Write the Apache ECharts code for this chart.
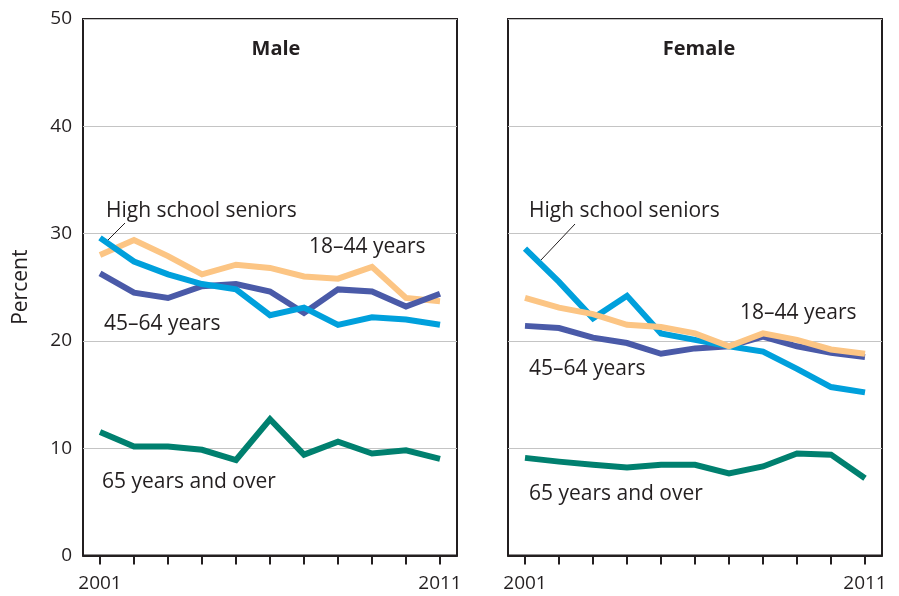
<!DOCTYPE html>
<html>
<head>
<meta charset="utf-8">
<script src="https://cdn.jsdelivr.net/npm/echarts@6/dist/echarts.min.js"></script>
<style>
html,body{margin:0;padding:0;background:#fff;}
#chart{width:899px;height:596px;}
</style>
</head>
<body>
<div id="chart"></div>
<script>
var years = ['2001','2002','2003','2004','2005','2006','2007','2008','2009','2010','2011'];
var yTicks = [0, 10, 20, 30, 40, 50];

var maleHS    = [29.6, 27.4, 26.2, 25.3, 24.8, 22.4, 23.1, 21.5, 22.2, 22.0, 21.5];
var male1844  = [28.0, 29.4, 27.9, 26.2, 27.1, 26.8, 26.0, 25.8, 26.9, 24.0, 23.7];
var male4564  = [26.3, 24.5, 24.0, 25.1, 25.3, 24.6, 22.6, 24.8, 24.6, 23.2, 24.4];
var male65    = [11.5, 10.15, 10.15, 9.85, 8.9, 12.7, 9.4, 10.6, 9.5, 9.8, 9.0];

var femHS     = [28.6, 25.5, 22.1, 24.2, 20.7, 20.1, 19.5, 19.0, 17.4, 15.7, 15.2];
var fem1844   = [24.0, 23.1, 22.5, 21.5, 21.3, 20.7, 19.5, 20.7, 20.1, 19.2, 18.8];
var fem4564   = [21.4, 21.2, 20.3, 19.8, 18.8, 19.3, 19.5, 20.4, 19.5, 18.9, 18.5];
var fem65     = [9.1, 8.75, 8.45, 8.2, 8.45, 8.45, 7.65, 8.3, 9.5, 9.4, 7.2];

var panelTitles = ['Male', 'Female'];
var seriesNames = ['High school seniors', '18–44 years', '45–64 years', '65 years and over'];

var FONT = '"Open Sans", "Noto Sans", sans-serif';
var INK = '#231f20';
var colors = ['#00a0dc', '#fcc584', '#4a5aa8', '#00806f'];

var chart = echarts.init(document.getElementById('chart'), null, {renderer: 'canvas'});

function xAxis(gi) {
  return {
    type: 'category', gridIndex: gi, data: years, boundaryGap: true,
    axisLine: {show: true, lineStyle: {color: INK, width: 2}},
    axisTick: {show: true, alignWithLabel: true, interval: 0, length: 9, lineStyle: {color: INK, width: 2}},
    axisLabel: {
      interval: function (i) { return i === 0 || i === years.length - 1; },
      color: INK, fontSize: 19, fontFamily: FONT, margin: 19
    },
    splitLine: {show: false}
  };
}
function yAxis(gi, showLabels) {
  return {
    type: 'value', gridIndex: gi, min: yTicks[0], max: yTicks[yTicks.length - 1], interval: 10,
    name: showLabels ? 'Percent' : '', nameLocation: 'middle', nameRotate: 90, nameGap: 51,
    nameTextStyle: {color: INK, fontSize: 21, fontFamily: FONT},
    axisLine: {show: false}, axisTick: {show: false},
    axisLabel: {show: showLabels, color: INK, fontSize: 19, fontFamily: FONT, margin: 11},
    splitLine: {show: true, lineStyle: {color: '#c4c4c4', width: 1}}
  };
}
function line(name, data, ci, gi) {
  return {
    type: 'line', name: name, xAxisIndex: gi, yAxisIndex: gi, data: data,
    symbol: 'none', smooth: false,
    lineStyle: {color: colors[ci], width: 6, join: 'miter'},
    z: 3
  };
}
function txt(x, y, s) {
  return {
    type: 'text', x: x, y: y, z: 10,
    style: {text: s, fill: INK, font: '21px ' + FONT, verticalAlign: 'middle', align: 'left'}
  };
}

var option = {
  backgroundColor: '#fff',
  animation: false,
  grid: [
    {left: 83, top: 19, width: 374, bottom: 40.5, show: true, borderColor: INK, borderWidth: 2, backgroundColor: 'transparent'},
    {left: 508, top: 19, width: 374, bottom: 40.5, show: true, borderColor: INK, borderWidth: 2, backgroundColor: 'transparent'}
  ],
  title: [
    {text: panelTitles[0], left: 271, top: 34, textAlign: 'center', textStyle: {color: INK, fontSize: 20, fontWeight: 'bold', fontFamily: FONT}},
    {text: panelTitles[1], left: 694, top: 34, textAlign: 'center', textStyle: {color: INK, fontSize: 20, fontWeight: 'bold', fontFamily: FONT}}
  ],
  xAxis: [xAxis(0), xAxis(1)],
  yAxis: [yAxis(0, true), yAxis(1, false)],
  series: [
    line(seriesNames[1], male1844, 1, 0),
    line(seriesNames[2], male4564, 2, 0),
    line(seriesNames[0], maleHS, 0, 0),
    line(seriesNames[3], male65, 3, 0),
    line(seriesNames[2], fem4564, 2, 1),
    line(seriesNames[0], femHS, 0, 1),
    line(seriesNames[1], fem1844, 1, 1),
    line(seriesNames[3], fem65, 3, 1)
  ],
  graphic: [
    txt(106, 211, seriesNames[0]),
    txt(309, 247, seriesNames[1]),
    txt(104, 324, seriesNames[2]),
    txt(102, 482, seriesNames[3]),
    txt(529, 211, seriesNames[0]),
    txt(740, 313, seriesNames[1]),
    txt(529, 369, seriesNames[2]),
    txt(529, 494, seriesNames[3]),
    {type: 'line', z: 10, shape: {x1: 108, y1: 240, x2: 125, y2: 223}, style: {stroke: INK, lineWidth: 1}},
    {type: 'line', z: 10, shape: {x1: 541, y1: 260, x2: 575, y2: 224}, style: {stroke: INK, lineWidth: 1}}
  ]
};
chart.setOption(option);
</script>
</body>
</html>
